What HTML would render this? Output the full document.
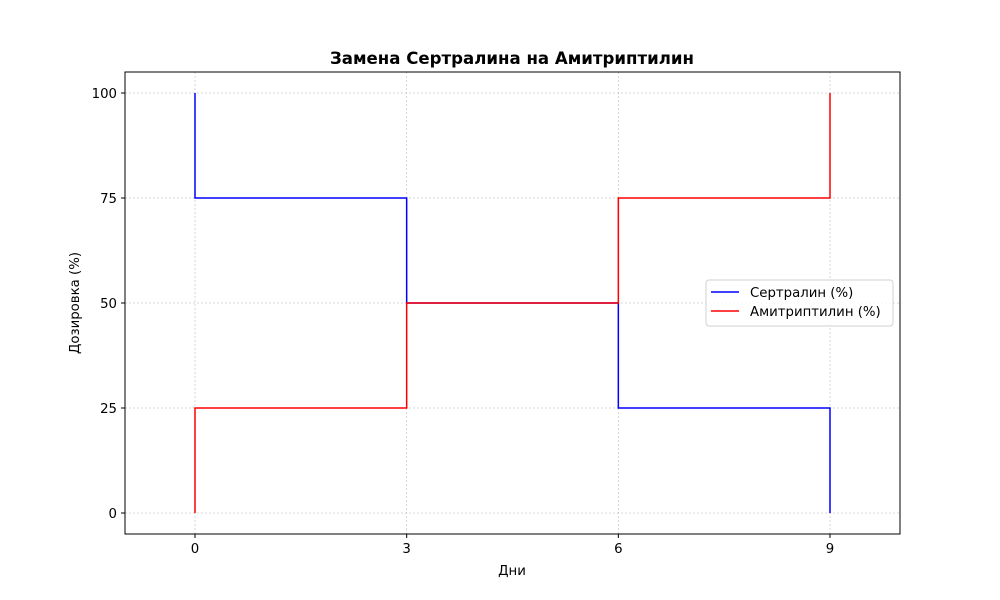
<!DOCTYPE html>
<html><head><meta charset="utf-8"><style>
body{margin:0;background:#fff;}
svg{display:block;font-family:"DejaVu Sans","Liberation Sans",sans-serif;}
</style></head><body>
<svg id="chart" width="1000" height="600" viewBox="0 0 1000 600">
<rect width="1000" height="600" fill="#fff"/>
<g id="grid"></g>
<g id="ticks"></g>
<g id="series"></g>
<rect x="125" y="72" width="775" height="462" fill="none" stroke="#000" stroke-width="1"/>
<text x="512" y="64" text-anchor="middle" font-size="16.6" font-weight="bold">Замена Сертралина на Амитриптилин</text>
<text x="512" y="575" text-anchor="middle" font-size="13.3">Дни</text>
<text transform="translate(79,303) rotate(-90)" text-anchor="middle" font-size="13.3">Дозировка (%)</text>
<g>
<rect x="706" y="280" width="187" height="46" rx="3" fill="#fff" fill-opacity="0.8" stroke="#d0d0d0"/>
<g><line x1="711" y1="292" x2="739" y2="292" stroke="blue" stroke-width="1.5"/><text x="750" y="297" font-size="13.3">Сертралин (%)</text></g>
<g><line x1="711" y1="311" x2="739" y2="311" stroke="red" stroke-width="1.5"/><text x="750" y="316" font-size="13.3">Амитриптилин (%)</text></g>
</g>
</svg>
<script>
const days = [0,0,3,3,6,6,9,9];
const sertraline = [100,75,75,50,50,25,25,0];
const amitriptyline = [0,25,25,50,50,75,75,100];
const xTicks = [0,3,6,9];
const yTicks = [0,25,50,75,100];
const NS='http://www.w3.org/2000/svg';
const X = d => 195 + d*(830-195)/9;
const Y = v => 513 - v*(513-93)/100;
function mk(tag, attrs, parent){const e=document.createElementNS(NS,tag);for(const k in attrs)e.setAttribute(k,attrs[k]);parent.appendChild(e);return e;}
const grid=document.getElementById('grid'), ticks=document.getElementById('ticks'), series=document.getElementById('series');
xTicks.forEach(t=>{
  const g=mk('line',{x1:X(t),x2:X(t),y1:72,y2:534,stroke:'#b0b0b0','stroke-width':0.5,'stroke-dasharray':'2,2'},grid);
  
  
  const tk=mk('line',{x1:X(t),x2:X(t),y1:534,y2:538,stroke:'#000'},ticks);
  
  
  const tx=mk('text',{x:X(t),y:553,'text-anchor':'middle','font-size':13.3},ticks);
  tx.textContent=t;
  
  
});
yTicks.forEach(t=>{
  const g=mk('line',{x1:125,x2:900,y1:Y(t),y2:Y(t),stroke:'#b0b0b0','stroke-width':0.5,'stroke-dasharray':'2,2'},grid);
  
  
  const tk=mk('line',{x1:121,x2:125,y1:Y(t),y2:Y(t),stroke:'#000'},ticks);
  
  
  const tx=mk('text',{x:117,y:Y(t)+5,'text-anchor':'end','font-size':13.3},ticks);
  tx.textContent=t;
  
  
});
function line(vals,color,name){
  const p=mk('polyline',{points:days.map((d,i)=>X(d)+','+Y(vals[i])).join(' '),fill:'none',stroke:color,'stroke-width':1.5},series);
  
  
}
line(sertraline,'blue','sertraline-line');
line(amitriptyline,'red','amitriptyline-line');
</script>
</body></html>
